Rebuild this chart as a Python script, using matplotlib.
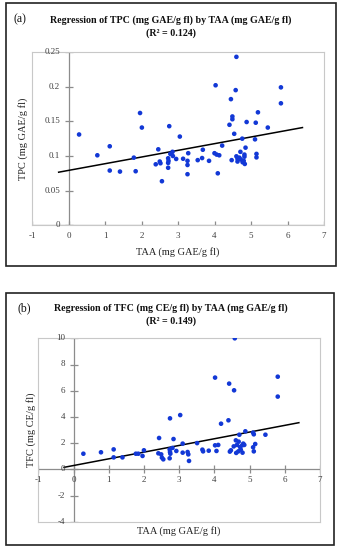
import matplotlib
matplotlib.use("Agg")
import matplotlib.pyplot as plt
from matplotlib.patches import Rectangle
import numpy as np

# ---------------- data ----------------
a_x = [0.29, 0.79, 1.13, 1.13, 1.41, 1.79, 1.84, 1.96, 2.01, 2.39,
       2.46, 2.50, 2.52, 2.56, 2.73, 2.74, 2.73, 2.73, 2.76, 2.79,
       2.85, 2.86, 2.95, 3.05, 3.14, 3.26, 3.26, 3.26, 3.28, 3.54,
       3.66, 3.68, 3.85, 4.00, 4.03, 4.06, 4.09, 4.13, 4.21, 4.41,
       4.45, 4.47, 4.49, 4.49, 4.54, 4.58, 4.60, 4.60, 4.63, 4.63,
       4.68, 4.71, 4.72, 4.76, 4.77, 4.80, 4.82, 4.82, 4.83, 4.85,
       4.88, 5.11, 5.13, 5.15, 5.15, 5.19, 5.46, 5.82, 5.82]
a_y = [0.131, 0.101, 0.114, 0.079, 0.0775, 0.0976, 0.078, 0.162, 0.141, 0.088,
       0.1096, 0.092, 0.0895, 0.0636, 0.0967, 0.093, 0.090, 0.083, 0.143, 0.103,
       0.106, 0.100, 0.0957, 0.128, 0.096, 0.093, 0.087, 0.0737, 0.104, 0.094,
       0.097, 0.109, 0.093, 0.104, 0.202, 0.102, 0.075, 0.101, 0.115, 0.145,
       0.182, 0.094, 0.157, 0.153, 0.132, 0.195, 0.243, 0.0995, 0.096, 0.092,
       0.0976, 0.106, 0.095, 0.125, 0.091, 0.093, 0.102, 0.099, 0.0885, 0.112,
       0.149, 0.124, 0.148, 0.103, 0.098, 0.163, 0.141, 0.199, 0.176]
a_fit_intercept = 0.0792
a_fit_slope = 0.00964
a_fit_range = [-0.27, 6.41]
a_yticks = [0, 0.05, 0.10, 0.15, 0.20, 0.25]
a_yticklabels = ["0", "0.05", "0.1", "0.15", "0.2", "0.25"]

b_x = [0.28, 0.78, 1.14, 1.14, 1.39, 1.77, 1.84, 1.96, 2.00, 2.43,
       2.41, 2.49, 2.51, 2.55, 2.74, 2.73, 2.74, 2.75, 2.73, 2.81,
       2.84, 2.92, 3.03, 3.10, 3.10, 3.24, 3.26, 3.28, 3.51, 3.66,
       3.68, 3.84, 4.02, 4.06, 4.11, 4.19, 4.40, 4.44, 4.47, 4.55,
       4.61, 4.62, 4.64, 4.68, 4.69, 4.71, 4.73, 4.75, 4.79, 4.80,
       4.82, 4.85, 4.88, 5.10, 5.12, 5.10, 5.12, 5.16, 5.45, 4.58,
       4.02, 4.42, 4.56, 5.80, 5.80]
b_y = [1.19, 1.30, 1.52, 0.91, 0.91, 1.19, 1.19, 1.02, 1.45, 2.39,
       1.22, 1.14, 0.89, 0.76, 3.89, 1.52, 1.32, 1.19, 0.84, 1.63,
       2.31, 1.40, 4.14, 1.96, 1.27, 1.32, 1.14, 0.64, 2.00, 1.50,
       1.37, 1.42, 1.83, 1.40, 1.86, 3.48, 3.74, 1.35, 1.45, 1.75,
       2.21, 1.25, 1.86, 1.37, 2.11, 2.64, 1.70, 1.50, 1.83, 1.27,
       1.96, 1.86, 2.90, 2.80, 2.67, 1.68, 1.37, 1.93, 2.64, 10.0,
       7.0, 6.54, 6.03, 7.07, 5.55]
b_fit_intercept = 0.288
b_fit_slope = 0.511
b_fit_range = [-0.27, 6.40]
b_yticks = [-4, -2, 0, 2, 4, 6, 8, 10]
b_yticklabels = ["-4", "-2", "0", "2", "4", "6", "8", "10"]

xticks = [-1, 0, 1, 2, 3, 4, 5, 6, 7]
xticklabels = ["-1", "0", "1", "2", "3", "4", "5", "6", "7"]

titles = ["Regression of TPC (mg GAE/g fl) by TAA (mg GAE/g fl)",
          "Regression of TFC (mg CE/g fl) by TAA (mg GAE/g fl)"]
r2_labels = ["(R\u00b2 = 0.124)", "(R\u00b2 = 0.149)"]
panel_tags = ["(a)", "(b)"]
ylabels = ["TPC (mg GAE/g fl)", "TFC (mg CE/g fl)"]
xlabel = "TAA (mg GAE/g fl)"

# ---------------- style ----------------
W, H = 340, 550
SERIF = ["Liberation Serif", "DejaVu Serif"]
plt.rcParams["font.family"] = SERIF
DOT = "#1238D6"
AXC = "#8C8C8C"
LBL = "#404040"

fig = plt.figure(figsize=(W / 100, H / 100), dpi=100)


def fx(px):
    return px / W


def fy(py):
    return 1 - py / H


def panel(rect_px, frame_px, x, y, icpt, slope, frange, ylim, yticks, yticklabels,
          title, r2, tag, ylabel, title_y, tag_xy, ylabel_x, xlabel_y):
    l, t, r, b = rect_px
    ax = fig.add_axes([fx(l), fy(b), fx(r - l), (b - t) / H])
    ax.set_xlim(-1, 7)
    ax.set_ylim(*ylim)
    # plot-area border
    for s in ax.spines.values():
        s.set_color("#C8C8C8")
        s.set_linewidth(0.8)
    ax.tick_params(left=False, bottom=False, labelleft=False, labelbottom=False)
    # axes crossing at zero
    ax.axhline(0, color=AXC, lw=0.9, zorder=1)
    ax.axvline(0, color=AXC, lw=0.9, zorder=1)
    for v, lab in zip(yticks, yticklabels):
        ax.plot([0], [v], color=AXC, marker="_", markersize=6,
                markeredgewidth=0.9, zorder=1)
        ax.annotate(lab, xy=(0, v), xytext=(-6, 0), textcoords="offset points",
                    ha="right", va="center", fontsize=6.5, color=LBL)
    for v, lab in zip(xticks, xticklabels):
        ax.plot([v], [0], color=AXC, marker="|", markersize=6,
                markeredgewidth=0.9, zorder=1)
        ax.annotate(lab, xy=(v, 0), xytext=(0, -5), textcoords="offset points",
                    ha="center", va="top", fontsize=6.5, color=LBL)
    ax.scatter(x, y, s=11, color=DOT, edgecolors="none", zorder=3)
    fxs = np.array(frange)
    ax.plot(fxs, icpt + slope * fxs, color="black", lw=1.1, zorder=2)
    # texts
    cx = (l + r) / 2
    fig.text(fx(171), fy(title_y), title, ha="center", va="center",
             fontsize=7.2, fontweight="bold", color="#111111")
    fig.text(fx(171), fy(title_y + 13), r2, ha="center", va="center",
             fontsize=7.2, fontweight="bold", color="#111111")
    fig.text(fx(tag_xy[0]), fy(tag_xy[1]), tag, ha="center", va="center",
             fontsize=8.5, color="#111111")
    fig.text(fx(ylabel_x), fy((t + b) / 2), ylabel, rotation=90, ha="center",
             va="center", fontsize=7.5, color="#222222")
    fig.text(fx(cx), fy(xlabel_y), xlabel, ha="center", va="center",
             fontsize=7.5, color="#222222")
    fl, ft, fr, fb = frame_px
    fig.patches.append(Rectangle((fx(fl), fy(fb)), fx(fr - fl), (fb - ft) / H,
                                 transform=fig.transFigure, fill=False,
                                 edgecolor="#222222", lw=1.2))
    return ax


panel((32, 52, 324, 225.3), (6, 3, 336, 266), a_x, a_y, a_fit_intercept,
      a_fit_slope, a_fit_range, (0, 0.25), a_yticks, a_yticklabels,
      titles[0], r2_labels[0], panel_tags[0], ylabels[0],
      title_y=20, tag_xy=(20, 19), ylabel_x=23, xlabel_y=252)

panel((38.3, 338.3, 320, 521.7), (6, 293, 334, 545), b_x, b_y, b_fit_intercept,
      b_fit_slope, b_fit_range, (-4, 10), b_yticks, b_yticklabels,
      titles[1], r2_labels[1], panel_tags[1], ylabels[1],
      title_y=308, tag_xy=(24, 308), ylabel_x=31, xlabel_y=531)

fig.savefig("out.png", dpi=100)
